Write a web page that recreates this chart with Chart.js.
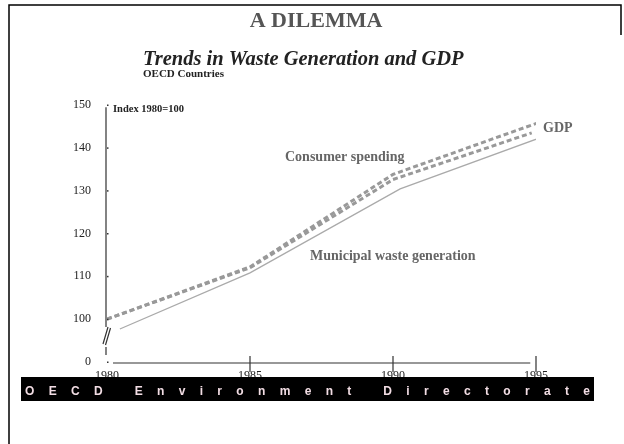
<!DOCTYPE html>
<html>
<head>
<meta charset="utf-8">
<script src="https://cdn.jsdelivr.net/npm/chart.js@4.4.1/dist/chart.umd.min.js"></script>
<style>
  html, body { margin: 0; padding: 0; background: #fff; }
  #wrap { width: 624px; height: 444px; position: relative; }
</style>
</head>
<body>
<div id="wrap"><canvas id="grafico"></canvas></div>
<script>
// valores (indice 1980=100)
const anios = [1980, 1985, 1990, 1995];
const gdpX = [1980, 1985, 1990, 1995.05];
const gdp = [100, 112.2, 133.8, 145.8];
const consumoX = [1980, 1985, 1990, 1994.85];
const consumo = [100, 112, 132.6, 143.5];
const residuosX = [1980.45, 1985, 1990.25, 1995.2];
const residuos = [97.7, 110.8, 130.4, 142.5];
const yTicks = [90, 100, 110, 120, 130, 140, 150];
const yLabels = ['0', '100', '110', '120', '130', '140', '150'];

function puntos(xs, ys) {
    return xs.map(function (x, i) { return { x: x, y: ys[i] }; });
}

const decoracion = {
    id: 'decoracion',
    beforeDraw: function (chart) {
        const ctx = chart.ctx;
        ctx.save();
        ctx.fillStyle = '#fff';
        ctx.fillRect(0, 0, chart.width, chart.height);
        ctx.restore();
    },
    afterDraw: function (chart) {
        const ctx = chart.ctx;
        const xs = chart.scales.x, ys = chart.scales.y;
        const x0 = xs.getPixelForValue(1980);
        const yb = ys.getPixelForValue(90);
        ctx.save();

        // marco
        ctx.strokeStyle = '#000';
        ctx.lineWidth = 1.5;
        ctx.beginPath();
        ctx.moveTo(9, 444); ctx.lineTo(9, 5); ctx.lineTo(621, 5); ctx.lineTo(621, 35);
        ctx.stroke();

        // eje y con corte
        ctx.strokeStyle = '#333';
        ctx.lineWidth = 1.2;
        ctx.beginPath();
        ctx.moveTo(x0 - 1, ys.getPixelForValue(149.5)); ctx.lineTo(x0 - 1, 327);
        ctx.moveTo(x0 - 1, 347); ctx.lineTo(x0 - 1, 355);
        ctx.moveTo(103, 344); ctx.lineTo(108, 327);
        ctx.moveTo(105.5, 345); ctx.lineTo(110.5, 328);
        ctx.stroke();
        ctx.fillStyle = '#333';
        yTicks.forEach(function (v) {
            ctx.fillRect(x0, ys.getPixelForValue(v) - 0.5, 1.5, 1.5);
        });

        // eje x
        ctx.beginPath();
        ctx.moveTo(113, yb + 1); ctx.lineTo(xs.getPixelForValue(1994.8), yb + 1);
        [1985, 1990, 1995].forEach(function (a) {
            const px = xs.getPixelForValue(a);
            ctx.moveTo(px, yb - 6); ctx.lineTo(px, yb + 10);
        });
        ctx.stroke();

        // titulos
        ctx.textBaseline = 'alphabetic';
        ctx.textAlign = 'center';
        ctx.fillStyle = '#555';
        ctx.font = 'bold 22px "Liberation Serif"';
        ctx.fillText('A DILEMMA', 316, 27);
        ctx.textAlign = 'left';
        ctx.fillStyle = '#222';
        ctx.font = 'italic bold 20.5px "Liberation Serif"';
        ctx.fillText('Trends in Waste Generation and GDP', 143, 65);
        ctx.font = 'bold 11px "Liberation Serif"';
        ctx.fillText('OECD Countries', 143, 77);
        ctx.font = 'bold 10.5px "Liberation Serif"';
        ctx.fillText('Index 1980=100', 113, 112);

        // etiquetas de series
        ctx.fillStyle = '#666';
        ctx.font = 'bold 14px "Liberation Serif"';
        ctx.fillText('Consumer spending', 285, 161);
        ctx.fillText('Municipal waste generation', 310, 260);
        ctx.fillText('GDP', 543, 132);

        // franja inferior
        ctx.fillStyle = '#000';
        ctx.fillRect(21, 377, 573, 24);
        const texto = 'OECD Environment Directorate';
        ctx.font = 'bold 12px "Liberation Sans"';
        const base = ctx.measureText(texto).width;
        const esp = (565 - base) / (texto.length - 1);
        ctx.fillStyle = '#f2dde4';
        ctx.textBaseline = 'middle';
        let cx = 25;
        for (const ch of texto) {
            ctx.fillText(ch, cx, 392);
            cx += ctx.measureText(ch).width + esp;
        }
        ctx.restore();
    }
};

const ctx = document.getElementById('grafico').getContext('2d');
new Chart(ctx, {
    type: 'line',
    data: {
        datasets: [{
            label: 'GDP',
            data: puntos(gdpX, gdp),
            borderColor: '#999',
            borderWidth: 3,
            borderDash: [5, 3],
            pointRadius: 0,
            tension: 0
        }, {
            label: 'Consumer spending',
            data: puntos(consumoX, consumo),
            borderColor: '#999',
            borderWidth: 3,
            borderDash: [5, 3],
            pointRadius: 0,
            tension: 0
        }, {
            label: 'Municipal waste generation',
            data: puntos(residuosX, residuos),
            borderColor: '#aaa',
            borderWidth: 1.3,
            pointRadius: 0,
            tension: 0
        }]
    },
    options: {
        responsive: true,
        maintainAspectRatio: false,
        animation: false,
        layout: { padding: { top: 105, right: 88, left: 0, bottom: 0 } },
        plugins: {
            legend: { display: false },
            tooltip: { enabled: false }
        },
        scales: {
            x: {
                type: 'linear',
                min: 1980,
                max: 1995,
                afterFit: function (s) { s.height = 82; },
                afterBuildTicks: function (s) {
                    s.ticks = anios.map(function (v) { return { value: v }; });
                },
                ticks: {
                    color: '#222',
                    font: { family: '"Liberation Serif"', size: 12 },
                    padding: 6.5,
                    maxRotation: 0,
                    callback: function (v) { return String(v); }
                },
                grid: { display: false, drawTicks: false },
                border: { display: false }
            },
            y: {
                min: 90,
                max: 150,
                afterFit: function (s) { s.width = 107; },
                afterBuildTicks: function (s) {
                    s.ticks = yTicks.map(function (v) { return { value: v }; });
                },
                ticks: {
                    color: '#222',
                    font: { family: '"Liberation Serif"', size: 12 },
                    padding: 16,
                    callback: function (v) { return yLabels[yTicks.indexOf(v)]; }
                },
                grid: { display: false, drawTicks: false },
                border: { display: false }
            }
        }
    },
    plugins: [decoracion]
});
</script>
</body>
</html>
